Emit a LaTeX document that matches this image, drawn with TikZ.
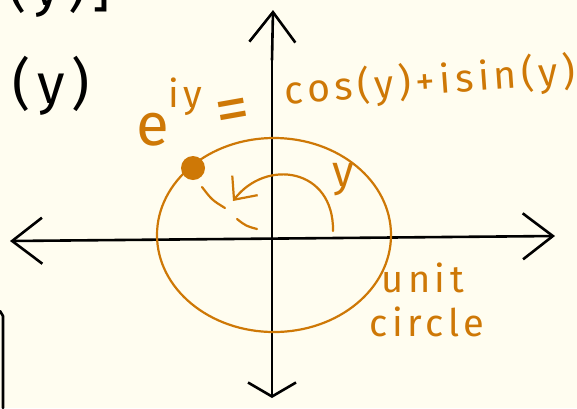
\documentclass[tikz,border=0pt]{standalone}
\usepackage{fontspec}
\setmainfont{Fira Sans}
\newfontfamily\handfont[LetterSpace=12]{Fira Sans}
\usetikzlibrary{arrows.meta,positioning}
\definecolor{paper}{RGB}{255,253,240}
\definecolor{ink}{RGB}{206,120,6}

\begin{document}
\begin{tikzpicture}[x=0.5pt, y=-0.5pt, >={Straight Barb[length=15pt, width=23pt]},
  axis/.style={draw=black, line width=1.3pt, line cap=round, line join=round},
  orng/.style={draw=ink, line width=1.1pt, line cap=round},
  otxt/.style={inner sep=0pt, text=ink, font=\handfont},
  btxt/.style={inner sep=0pt, text=black, font=\handfont\fontsize{28}{30}\selectfont}]
  \fill[paper] (0,0) rectangle (577,408);
  \clip (0,0) rectangle (577,408);
  % black notes on the left
  \node[btxt] (oldnote) at (60,-12) {(y)]};
  \node[btxt] (ynote) at (51,86) {(y)};
  \coordinate (brtop) at (0,311);
  \coordinate (brbot) at (3,408);
  \draw[axis] (brtop) -- (3,316) -- (brbot);
  % axes
  \coordinate (xl) at (10,241);
  \coordinate (xr) at (555,236);
  \coordinate (yt) at (273,10);
  \coordinate (yb) at (272,398);
  \draw[axis, <->] (xl) -- (xr);
  \draw[axis, ->] (272,60) -- (yt);
  \draw[axis, -{Straight Barb[length=7pt, width=24pt]}] (272,60) -- (yb);
  % unit circle and the point on it
  \draw[orng] (274,235) ellipse [x radius=117, y radius=97];
  \node[circle, fill=ink, minimum width=10pt, minimum height=12pt, inner sep=0pt] (pt) at (193,168) {};
  \coordinate (arcst) at (333,231);
  \coordinate (arcend) at (233,201);
  \draw[orng, -{Straight Barb[length=9pt, width=16pt]}] (arcst) .. controls (334,168) and (266,158) .. (arcend);
  \draw[orng] (202,187) .. controls (212,200) .. (225,208);
  \draw[orng] (237,219) .. controls (246,226) .. (257,229);
  % labels
  \node[otxt, font=\handfont\fontsize{22}{24}\selectfont] (ylbl) at (343,180) {y};
  \node[otxt, font=\handfont\fontsize{30}{32}\selectfont] (ebase) at (153,130) {e};
  \node[otxt, font=\handfont\fontsize{19}{20}\selectfont] (eexp) at (185,97) {iy};
  \node[otxt, font=\handfont\fontsize{34}{36}\selectfont, rotate=10] (eq) at (233,116) {=};
  \node[otxt, font=\handfont\fontsize{19.5}{22}\selectfont, rotate=4] (euler) at (430,82) {cos(y)+isin(y)};
  \node[otxt, font=\handfont\fontsize{19}{22}\selectfont, align=left] (unitlbl) at (427,300) {\hspace{6pt}unit\\circle};
\end{tikzpicture}
\end{document}
